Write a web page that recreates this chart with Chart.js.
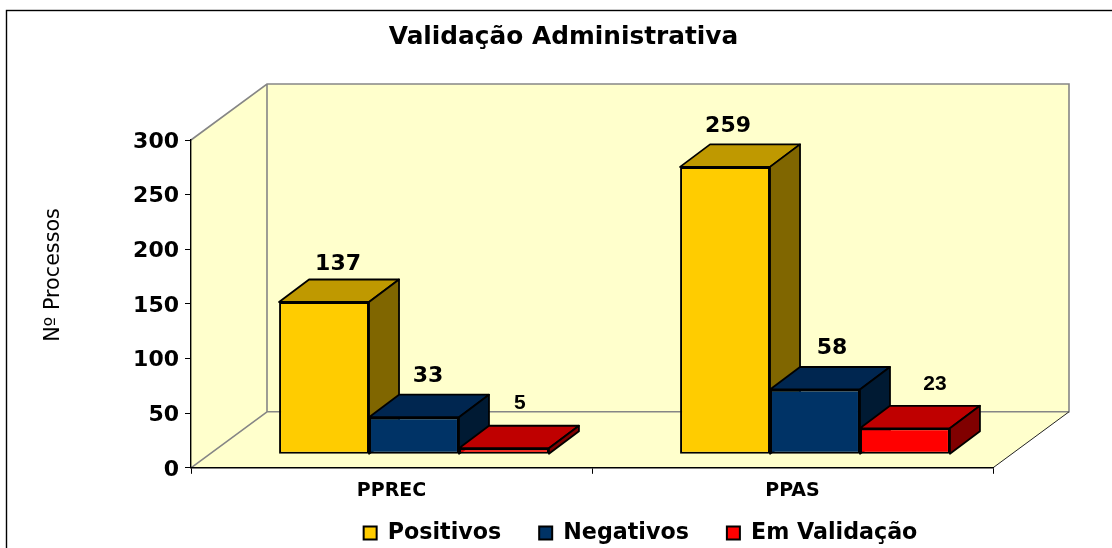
<!DOCTYPE html>
<html><head><meta charset="utf-8">
<style>html,body{margin:0;padding:0;background:#fff;overflow:hidden}#w{position:relative;width:1112px;height:548px}</style>
<script src="https://cdn.jsdelivr.net/npm/chart.js@4"></script>
</head><body><div id="w"><canvas id="c" width="1112" height="548"></canvas></div>
<script>
const chartTitle = "Validação Administrativa";
const yAxisTitle = "Nº Processos";
const categories = ["PPREC", "PPAS"];
const seriesNames = ["Positivos", "Negativos", "Em Validação"];
const positivos = [137, 259];
const negativos = [33, 58];
const emValidacao = [5, 23];
const frontColors = ["#FFCC00", "#003366", "#FF0000"];
const topColors = ["#BF9900", "#002650", "#BF0000"];
const sideColors = ["#806600", "#001A33", "#800000"];
// label nudges from the bar's front-top centre [dx, dy]
const labelNudge = [[[14,-38],[3,-41]],[[14,-41],[17,-41]],[[16,-45.5],[30,-44.5]]];
const labelFonts = ["bold 22px 'DejaVu Sans'","bold 22px 'DejaVu Sans'","bold 21px 'Liberation Sans'"];

const WALL = {dx:76, dy:-56}, BAR = {dx:30, dy:-22.5}, SHIFT_X = 22.5;
const FONT = "'DejaVu Sans'";

const bar3d = {
  id:'bar3d',
  beforeDraw(chart){
    const {ctx, chartArea:a} = chart;
    const L=a.left,R=a.right,T=a.top,B=a.bottom,dx=WALL.dx,dy=WALL.dy;
    ctx.save();
    ctx.strokeStyle='#000';ctx.lineWidth=1.4;ctx.strokeRect(6.5,10.5,1300,1000);
    ctx.fillStyle='#FFFFCC';
    ctx.beginPath();ctx.moveTo(L,T);ctx.lineTo(L+dx,T+dy);ctx.lineTo(R+dx,T+dy);ctx.lineTo(R+dx,B+dy);ctx.lineTo(R,B);ctx.lineTo(L,B);ctx.closePath();ctx.fill();
    ctx.strokeStyle='#868686';ctx.lineWidth=1.6;
    ctx.beginPath();
    ctx.moveTo(L,T);ctx.lineTo(L+dx,T+dy);ctx.lineTo(R+dx,T+dy);ctx.lineTo(R+dx,B+dy);ctx.lineTo(L+dx,B+dy);ctx.lineTo(L+dx,T+dy);
    ctx.moveTo(L+dx,B+dy);ctx.lineTo(L,B);
    ctx.stroke();
    ctx.strokeStyle='#222';ctx.lineWidth=1;
    ctx.beginPath();ctx.moveTo(R,B);ctx.lineTo(R+dx,B+dy);ctx.stroke();
    ctx.restore();
  },
  beforeDatasetsDraw(chart){
    const ctx=chart.ctx;
    ctx.save();
    ctx.translate(SHIFT_X,0);
    ctx.lineWidth=1.8;ctx.strokeStyle='#000';ctx.lineJoin='round';
    // left-to-right so that each bar's top covers its neighbour's side
    categories.forEach((_,c)=>{
      chart.data.datasets.forEach((ds,d)=>{
        const el=chart.getDatasetMeta(d).data[c];
        const l=el.x-el.width/2,r=el.x+el.width/2,t=el.y,b=el.base;
        ctx.fillStyle=topColors[d];
        ctx.beginPath();ctx.moveTo(l,t);ctx.lineTo(l+BAR.dx,t+BAR.dy);ctx.lineTo(r+BAR.dx,t+BAR.dy);ctx.lineTo(r,t);ctx.closePath();ctx.fill();ctx.stroke();
        ctx.fillStyle=sideColors[d];
        ctx.beginPath();ctx.moveTo(r,t);ctx.lineTo(r+BAR.dx,t+BAR.dy);ctx.lineTo(r+BAR.dx,b+BAR.dy);ctx.lineTo(r,b);ctx.closePath();ctx.fill();ctx.stroke();
      });
    });
  },
  afterDatasetsDraw(chart){
    const ctx=chart.ctx;
    ctx.restore();
    ctx.save();
    ctx.fillStyle='#000';ctx.textAlign='center';ctx.textBaseline='middle';
    chart.data.datasets.forEach((ds,d)=>{
      chart.getDatasetMeta(d).data.forEach((el,c)=>{
        ctx.font=labelFonts[d];
        ctx.fillText(String(ds.data[c]),el.x+SHIFT_X+labelNudge[d][c][0],el.y+labelNudge[d][c][1]);
      });
    });
    ctx.restore();
  },
  afterLayout(chart){
    const lg=chart.legend, t=chart.titleBlock, yt=chart.scales.yTitle;
    t.left+=67;t.right+=67;
    lg.left+=144;lg.right+=144;lg.top=484;lg.bottom=580;
    yt.top=208;yt.bottom=342;
    yt.left+=41;yt.right+=41;
  }
};

new Chart(document.getElementById('c'),{
  type:'bar',
  data:{labels:categories,datasets:[positivos,negativos,emValidacao].map((v,i)=>({
    label:seriesNames[i],data:v,yAxisID:'yBar',
    backgroundColor:frontColors[i],borderColor:'#000',borderWidth:2,borderSkipped:false,
    barPercentage:1,categoryPercentage:0.673,clip:false
  }))},
  options:{
    responsive:false,animation:false,
    layout:{padding:{left:0,right:119,top:0,bottom:-50}},
    plugins:{
      tooltip:{enabled:false},
      title:{display:true,text:chartTitle,color:'#000',font:{family:FONT,size:24.8,weight:'bold'},padding:{top:23,bottom:87.24}},
      legend:{position:'bottom',labels:{color:'#000',boxWidth:13,boxHeight:13,padding:38,font:{family:FONT,size:22.2,weight:'bold'}}}
    },
    scales:{
      x:{offset:true,grid:{drawOnChartArea:false,drawTicks:true,tickLength:6,offset:true,color:'#000'},
         border:{color:'#000',width:1.4},
         ticks:{color:'#000',padding:6,maxRotation:0,font:{family:FONT,size:19,weight:'bold'}},
         afterFit(s){s.height=60;}},
      y:{position:'left',min:0,max:300,grid:{drawOnChartArea:false,tickLength:6,color:'#000'},
         border:{color:'#000',width:1.4},
         ticks:{stepSize:50,color:'#000',padding:6,labelOffset:2,font:{family:FONT,size:22,weight:'bold'}},
         afterFit(s){s.width=141;}},
      yTitle:{position:'left',min:0,max:1,grid:{display:false},border:{display:false},ticks:{display:false},
         title:{display:true,text:yAxisTitle,color:'#000',padding:0,font:{family:FONT,size:20.7}},
         afterFit(s){s.width=50;}},
      yBar:{display:false,min:-12.67,max:283.27}
    }
  },
  plugins:[bar3d]
});
</script></body></html>
